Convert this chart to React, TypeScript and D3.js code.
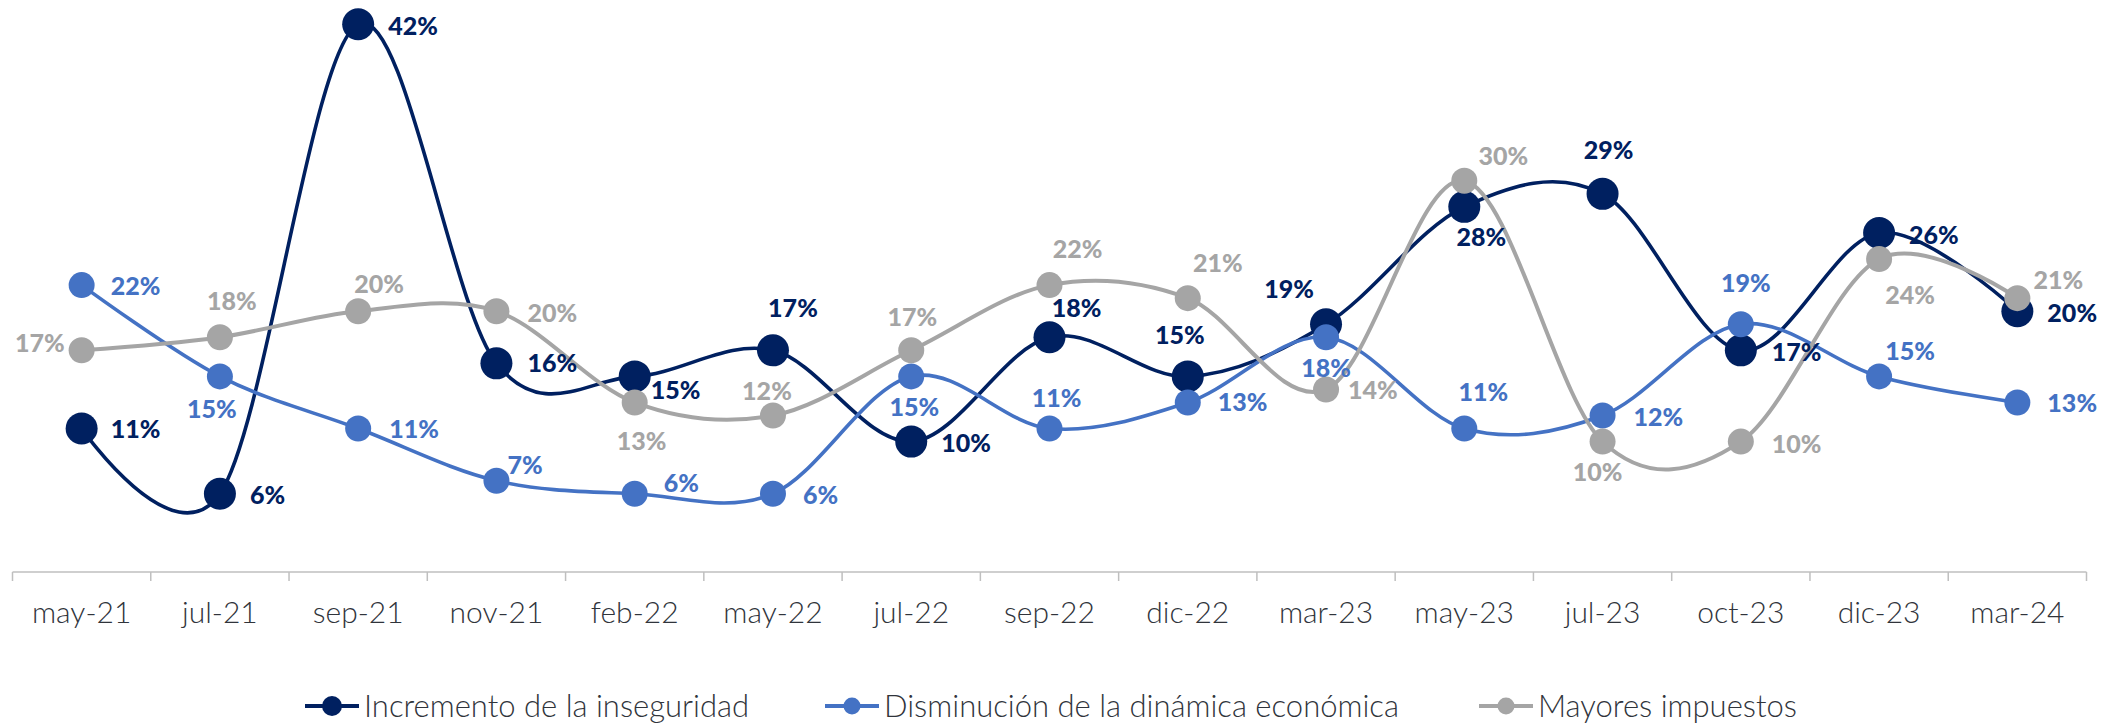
import React from "react";
import * as d3 from "d3";

const categories = ["may-21","jul-21","sep-21","nov-21","feb-22","may-22","jul-22","sep-22","dic-22","mar-23","may-23","jul-23","oct-23","dic-23","mar-24"];
const incremento = [11, 6, 42, 16, 15, 17, 10, 18, 15, 19, 28, 29, 17, 26, 20];
const disminucion = [22, 15, 11, 7, 6, 6, 15, 11, 13, 18, 11, 12, 19, 15, 13];
const mayores = [17, 18, 20, 20, 13, 12, 17, 22, 21, 14, 30, 10, 10, 24, 21];
const seriesNames = ["Incremento de la inseguridad", "Disminución de la dinámica económica", "Mayores impuestos"];

// label placement: [dx, dy, anchor]
type LP = [number, number, string];
const incrementoLabelPos: LP[] = [[29,0,"start"],[30,1,"start"],[30,2,"start"],[31,0,"start"],[16,14,"start"],[20,-42,"middle"],[30,1,"start"],[27,-29,"middle"],[-8,-41,"middle"],[-37,-35,"middle"],[17,30,"middle"],[6,-44,"middle"],[31,2,"start"],[30,2,"start"],[30,2,"start"]];
const disminucionLabelPos: LP[] = [[29,1,"start"],[-8,33,"middle"],[31,0,"start"],[11,-16,"start"],[29,-11,"start"],[30,1,"start"],[3,31,"middle"],[7,-31,"middle"],[30,0,"start"],[0,31,"middle"],[19,-37,"middle"],[31,1,"start"],[5,-41,"middle"],[31,-25,"middle"],[30,1,"start"]];
const mayoresLabelPos: LP[] = [[-17,-7,"end"],[12,-36,"middle"],[21,-27,"middle"],[31,2,"start"],[7,39,"middle"],[-6,-25,"middle"],[1,-33,"middle"],[28,-36,"middle"],[30,-35,"middle"],[22,1,"start"],[39,-25,"middle"],[-5,30,"middle"],[31,2,"start"],[31,36,"middle"],[41,-18,"middle"]];

const W = 2123, H = 723;
const FONT = "Lato, 'Open Sans', sans-serif";

export default function App() {
  const x = d3.scaleBand().domain(categories).range([12.5, 2086.5]).padding(0);
  const y = d3.scaleLinear().domain([0, 42]).range([572, 24.3]);
  const cx = (c: string) => (x(c) as number) + x.bandwidth() / 2;
  const line = d3.line<number>().x((_, i) => cx(categories[i])).y(v => y(v)).curve(d3.curveCatmullRom.alpha(0));

  const series = [
    { name: seriesNames[0], values: incremento, color: "#002060", r: 16, lw: 3.6, lp: incrementoLabelPos, lr: 10 },
    { name: seriesNames[1], values: disminucion, color: "#4472C4", r: 13, lw: 3.6, lp: disminucionLabelPos, lr: 8.5 },
    { name: seriesNames[2], values: mayores, color: "#A5A5A5", r: 13, lw: 4, lp: mayoresLabelPos, lr: 8.5 },
  ];
  const legendX = [305, 825, 1479];
  const legendY = 706;
  const ticks = d3.range(categories.length + 1).map(i => 12.5 + i * x.bandwidth());

  return (
    <svg width={W} height={H} style={{ position: "absolute", left: 0, top: 0, background: "#fff" }}>
      <line x1={12.5} x2={2086.5} y1={572} y2={572} stroke="#BFBFBF" strokeWidth={1.5} />
      {ticks.map((t, i) => (
        <line key={i} x1={t} x2={t} y1={572} y2={581} stroke="#BFBFBF" strokeWidth={1.5} />
      ))}
      {categories.map(c => (
        <text key={c} x={cx(c)} y={623} textAnchor="middle" fontFamily={FONT} fontWeight={300} fontSize={30} fill="#30343b">{c}</text>
      ))}
      {series.map(s => (
        <g key={s.name}>
          <path d={line(s.values) || ""} fill="none" stroke={s.color} strokeWidth={s.lw} />
          {s.values.map((v, i) => (
            <circle key={i} cx={cx(categories[i])} cy={y(v)} r={s.r} fill={s.color} />
          ))}
        </g>
      ))}
      {series.map(s => (
        <g key={s.name + "-labels"}>
          {s.values.map((v, i) => (
            <text key={i} x={cx(categories[i]) + s.lp[i][0]} y={y(v) + s.lp[i][1]} dy="0.36em" textAnchor={s.lp[i][2] as any}
              fontFamily={FONT} fontWeight={900} fontSize={25} fill={s.color}>{v}%</text>
          ))}
        </g>
      ))}
      {series.map((s, i) => (
        <g key={s.name + "-legend"}>
          <line x1={legendX[i]} x2={legendX[i] + 54} y1={legendY} y2={legendY} stroke={s.color} strokeWidth={4} />
          <circle cx={legendX[i] + 27} cy={legendY} r={s.lr} fill={s.color} />
          <text x={legendX[i] + 59} y={legendY + 11} fontFamily={FONT} fontWeight={300} fontSize={31} fill="#30343b">{s.name}</text>
        </g>
      ))}
    </svg>
  );
}
